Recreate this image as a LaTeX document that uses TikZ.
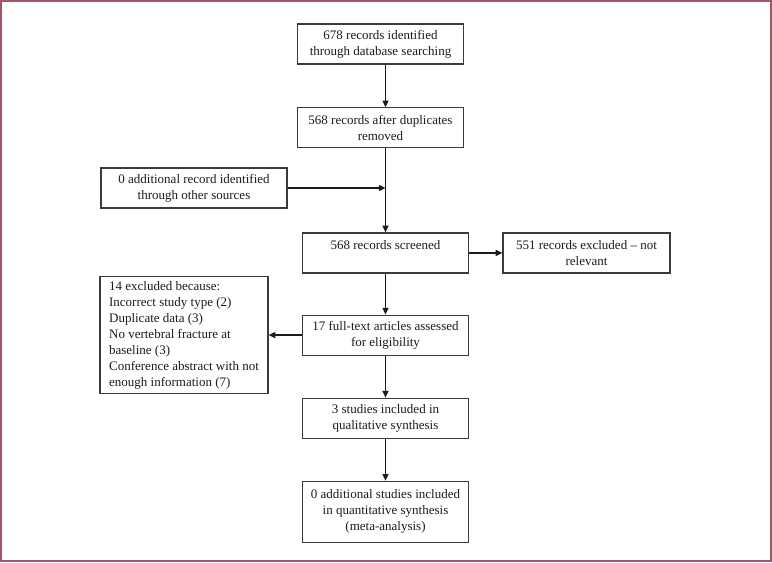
\documentclass[tikz,border=0pt]{standalone}
\usepackage{fontspec}
\setmainfont{Liberation Serif}
\usetikzlibrary{arrows.meta,positioning}
\definecolor{Ink}{HTML}{1C1C1C}
\definecolor{Edge}{HTML}{3A3A3A}
\definecolor{Frame}{HTML}{A65767}
\tikzset{
  box/.style={draw=Edge,fill=white,line width=0.85pt,minimum width=125pt,minimum height=30pt,align=center,font=\fontsize{9.75}{12}\selectfont,text=Ink,inner sep=3pt},
  notebox/.style={box,align=left,minimum width=126pt,minimum height=88pt},
  arr/.style={-{Triangle[length=5pt,width=4.5pt]},draw=Ink,line width=0.95pt}
}

\begin{document}
\begin{tikzpicture}[x=0.75pt,y=-0.75pt,node distance=31.5pt]
  \useasboundingbox (0,0) rectangle (772,562);
  \draw[Frame,line width=1.5pt] (1,1) rectangle (771,561);
  \node[box] (ident) at (380.5,44) {678 records identified\\through database searching};
  \node[box,below=32pt of ident] (dup) {568 records after duplicates\\removed};
  \node[box,below=63pt of dup,xshift=3.75pt] (screened) {568 records screened\\\phantom{x}};
  \node[box,minimum width=125.25pt,right=24.75pt of screened] (excluded) {551 records excluded -- not\\relevant};
  \node[box,minimum width=139.5pt] (other) at (194,188) {0 additional record identified\\through other sources};
  \node[box,below=30.75pt of screened] (fulltext) {17 full-text articles assessed\\for eligibility};
  \node[notebox,left=24.75pt of fulltext] (reasons) {14 excluded because:\\Incorrect study type (2)\\Duplicate data (3)\\No vertebral fracture at\\baseline (3)\\Conference abstract with not\\enough information (7)};
  \node[box,below=of fulltext] (quali) {3 studies included in\\qualitative synthesis};
  \node[box,minimum height=45.75pt,below=of quali] (quanti) {0 additional studies included\\in quantitative synthesis\\(meta-analysis)};
  \draw[arr] (ident.south -| screened.north) -- (dup.north -| screened.north);
  \draw[arr] (dup.south -| screened.north) -- (screened.north);
  \draw[arr] (other.east) -- (other.east -| screened.north);
  \draw[arr] (screened) -- (excluded);
  \draw[arr] (screened) -- (fulltext);
  \draw[arr] (fulltext.west) -- (fulltext.west -| reasons.east);
  \draw[arr] (fulltext) -- (quali);
  \draw[arr] (quali) -- (quanti);
\end{tikzpicture}
\end{document}
